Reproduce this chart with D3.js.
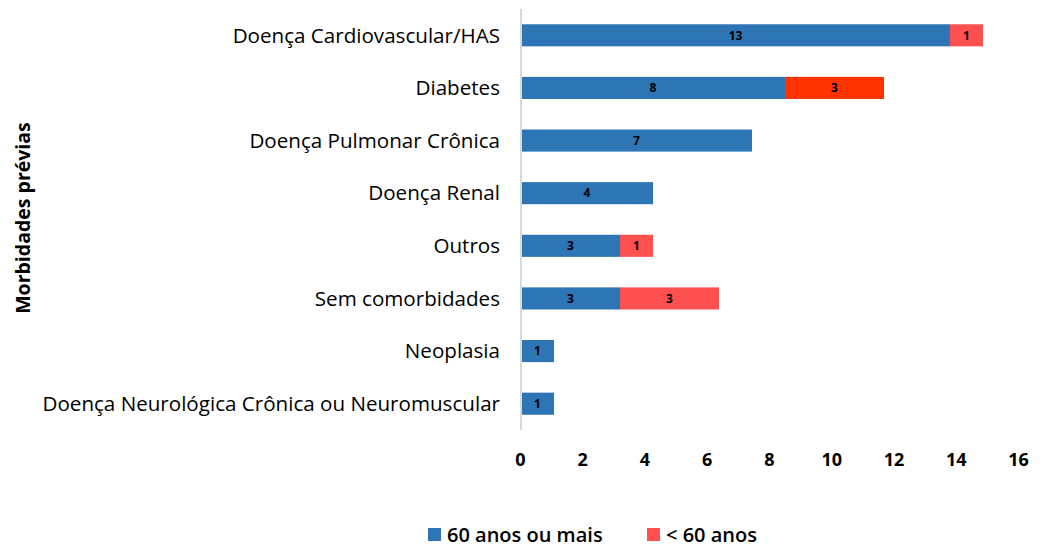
<!DOCTYPE html>
<html>
<head>
<meta charset="utf-8">
<script src="https://cdn.jsdelivr.net/npm/d3@7"></script>
<style>
  body { margin: 0; background: #fff; }
  svg { display: block; font-family: "Open Sans", Lato, sans-serif; }
</style>
</head>
<body>
<div id="chart"></div>
<script>
// categories, top to bottom
const categories = [
  "Doença Cardiovascular/HAS",
  "Diabetes",
  "Doença Pulmonar Crônica",
  "Doença Renal",
  "Outros",
  "Sem comorbidades",
  "Neoplasia",
  "Doença Neurológica Crônica ou Neuromuscular"
];
const over60 = [13, 8, 7, 4, 3, 3, 1, 1];
const under60 = [1, 3, 0, 0, 1, 3, 0, 0];
const seriesNames = ["60 anos ou mais", "< 60 anos"];
const xTicks = [0, 2, 4, 6, 8, 10, 12, 14, 16];

const width = 1061, height = 547;
const blue = "#2E75B6", red = "#FF5050";
// the Diabetes segment is drawn in a stronger red in the original
const redOverride = { "Diabetes": "#FF3300" };

const svg = d3.select("#chart").append("svg").attr("width", width).attr("height", height);

const x = d3.scaleLinear().domain([0, 16]).range([521, 1049]);
// tick labels in the original sit a bit tighter than the bars
const xLabels = d3.scaleLinear().domain([0, 16]).range([520, 1018]);
const y = d3.scaleBand().domain(categories).range([9, 430]).paddingInner(0.58).paddingOuter(0.29);

const rows = categories.map((c, i) => ({ cat: c, a: over60[i], b: under60[i] }));

// bars
const g = svg.append("g");
g.selectAll("rect.a").data(rows).enter().append("rect")
  .attr("x", x(0)).attr("y", d => y(d.cat))
  .attr("width", d => x(d.a) - x(0)).attr("height", y.bandwidth())
  .attr("fill", blue);
g.selectAll("rect.b").data(rows.filter(d => d.b > 0)).enter().append("rect")
  .attr("x", d => x(d.a)).attr("y", d => y(d.cat))
  .attr("width", d => x(d.a + d.b) - x(d.a)).attr("height", y.bandwidth())
  .attr("fill", d => redOverride[d.cat] || red);

// value labels
g.selectAll("text.a").data(rows).enter().append("text")
  .attr("x", d => (x(0) + x(d.a)) / 2).attr("y", d => y(d.cat) + y.bandwidth() / 2)
  .attr("dy", "0.35em").attr("text-anchor", "middle")
  .attr("font-size", 12).attr("font-weight", "bold").attr("fill", "#000")
  .text(d => d.a);
g.selectAll("text.b").data(rows.filter(d => d.b > 0)).enter().append("text")
  .attr("x", d => (x(d.a) + x(d.a + d.b)) / 2).attr("y", d => y(d.cat) + y.bandwidth() / 2)
  .attr("dy", "0.35em").attr("text-anchor", "middle")
  .attr("font-size", 12).attr("font-weight", "bold").attr("fill", "#000")
  .text(d => d.b);

// vertical axis line
svg.append("line")
  .attr("x1", 521).attr("x2", 521).attr("y1", 9).attr("y2", 430)
  .attr("stroke", "#d9d9d9").attr("stroke-width", 2);

// category labels
svg.append("g").selectAll("text").data(categories).enter().append("text")
  .attr("x", 500).attr("y", d => y(d) + y.bandwidth() / 2)
  .attr("dy", "0.35em").attr("text-anchor", "end")
  .attr("font-size", 20.6).attr("fill", "#000")
  .text(d => d);

// x tick labels
const xAxis = d3.axisBottom(xLabels).tickValues(xTicks).tickSize(0).tickPadding(0);
const ax = svg.append("g").attr("transform", "translate(0,453)").call(xAxis);
ax.select(".domain").remove();
ax.selectAll("text").attr("font-size", 18).attr("font-weight", "bold")
  .attr("font-family", "'Open Sans', sans-serif").attr("fill", "#000");

// y axis title
svg.append("text")
  .attr("transform", "translate(23,218) rotate(-90)")
  .attr("text-anchor", "middle").attr("dy", "0.35em")
  .attr("font-size", 19.5).attr("font-weight", "bold").attr("fill", "#000")
  .text("Morbidades prévias");

// legend
const legendItems = [
  { name: seriesNames[0], color: blue, x: 428 },
  { name: seriesNames[1], color: red, x: 647 }
];
const lg = svg.append("g").selectAll("g").data(legendItems).enter().append("g")
  .attr("transform", d => `translate(${d.x},528)`);
lg.append("rect").attr("width", 13).attr("height", 13).attr("fill", d => d.color);
lg.append("text").attr("x", 19).attr("y", 7).attr("dy", "0.35em")
  .attr("font-size", 20).attr("font-weight", 600).attr("fill", "#000")
  .text(d => d.name);
</script>
</body>
</html>
